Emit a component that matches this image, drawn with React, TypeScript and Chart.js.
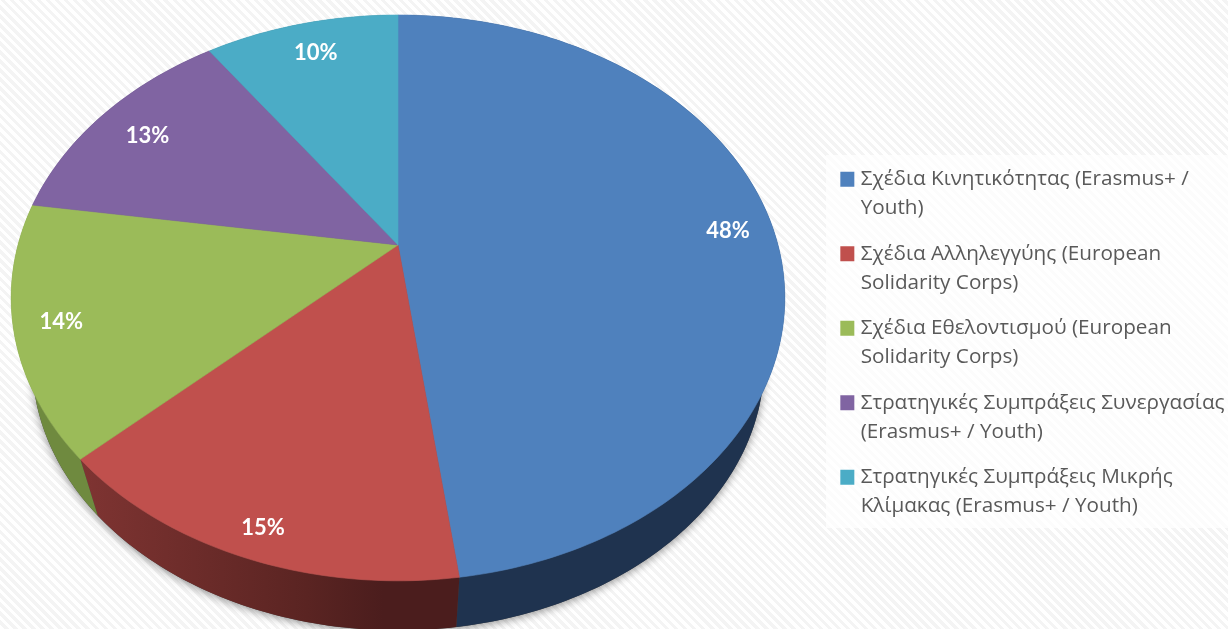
import React, { useEffect, useRef } from "react";
import { Chart, registerables } from "chart.js";

Chart.register(...registerables);

const categories: string[][] = [
  ["Σχέδια Κινητικότητας (Erasmus+ /", "Youth)"],
  ["Σχέδια Αλληλεγγύης (European", "Solidarity Corps)"],
  ["Σχέδια Εθελοντισμού (European", "Solidarity Corps)"],
  ["Στρατηγικές Συμπράξεις Συνεργασίας", "(Erasmus+ / Youth)"],
  ["Στρατηγικές Συμπράξεις Μικρής", "Κλίμακας (Erasmus+ / Youth)"],
];
const shares = [47.9, 15.1, 14.4, 12.9, 9.7];
const colors = ["#4f81bd", "#c0504d", "#9bbb59", "#8064a2", "#4bacc6"];
const sideColors = ["#1f334f", "#6b2c2a", "#6f8a3f", "#4c3c61", "#2d6776"];

// perspective of the tilted disc
const CX = 398;
const R = 380;
const APEX_Y = 245;
const TILT = -0.187;
const RISE = 227.2;
const LABEL_R = [0.88, 0.92, 0.88, 0.83, 0.85];
const LABEL_SHIFT = [[0, 2], [5, 1], [-1, 2], [-3, 1], [2, 0]];
// vertical edges of the disc converge on this point
const VX = 402;
const VY = 1500;
const DEPTH = 0.054;

type P = [number, number];

const project = (theta: number, r = 1): P => {
  const t = -r * Math.cos(theta);
  const u = r * Math.sin(theta);
  const d = 1 + TILT * t;
  return [CX + (R * u) / d, (RISE * t + APEX_Y) / d];
};
const lower = ([x, y]: P): P => [VX + (1 - DEPTH) * (x - VX), VY + (1 - DEPTH) * (y - VY)];

const rim = (from: number, to: number): P[] => {
  const n = Math.max(2, Math.ceil((Math.abs(to - from) * 180) / Math.PI));
  const pts: P[] = [];
  for (let i = 0; i <= n; i++) pts.push(project(from + ((to - from) * i) / n));
  return pts;
};

const trace = (ctx: CanvasRenderingContext2D, pts: P[]) => {
  ctx.beginPath();
  pts.forEach(([x, y], i) => (i ? ctx.lineTo(x, y) : ctx.moveTo(x, y)));
  ctx.closePath();
};

const perspectivePie = {
  id: "perspectivePie",
  beforeDraw(chart: any) {
    const ctx: CanvasRenderingContext2D = chart.ctx;
    ctx.save();
    ctx.fillStyle = "rgba(255,255,255,0.72)";
    ctx.fillRect(826, 155, chart.width - 826, 373);
    ctx.restore();
  },
  beforeDatasetsDraw(chart: any) {
    const ctx: CanvasRenderingContext2D = chart.ctx;
    const arcs = chart.getDatasetMeta(0).data;
    const angle = (a: number) => a + Math.PI / 2;
    ctx.save();

    // soft shadow below the disc
    ctx.save();
    ctx.shadowColor = "rgba(0,0,0,0.42)";
    ctx.shadowBlur = 9;
    ctx.shadowOffsetY = 2;
    ctx.fillStyle = "#444";
    trace(ctx, rim(0, Math.PI * 2).map(lower));
    ctx.fill();
    ctx.restore();

    // side walls
    arcs.forEach((arc: any, i: number) => {
      const top = rim(angle(arc.startAngle), angle(arc.endAngle));
      const wall = [...top, ...top.map(lower).reverse()];
      trace(ctx, wall);
      let fill: string | CanvasGradient = sideColors[i];
      if (i === 1) {
        const g = ctx.createLinearGradient(top[top.length - 1][0], 0, top[0][0], 0);
        g.addColorStop(0, "#7f3432");
        g.addColorStop(0.6, "#5a2422");
        g.addColorStop(0.8, "#4b1d1d");
        g.addColorStop(1, "#4b1d1d");
        fill = g;
      }
      ctx.fillStyle = fill;
      ctx.fill();
    });

    // top faces
    arcs.forEach((arc: any, i: number) => {
      const face: P[] = [project(0, 0), ...rim(angle(arc.startAngle), angle(arc.endAngle))];
      trace(ctx, face);
      ctx.fillStyle = colors[i];
      ctx.strokeStyle = colors[i];
      ctx.lineWidth = 0.6;
      ctx.fill();
      ctx.stroke();
    });

    // value labels
    ctx.font = "bold 22px Lato";
    ctx.fillStyle = "#ffffff";
    ctx.textAlign = "center";
    ctx.textBaseline = "middle";
    arcs.forEach((arc: any, i: number) => {
      const mid = angle((arc.startAngle + arc.endAngle) / 2);
      const [x, y] = project(mid, LABEL_R[i]);
      ctx.fillText(`${Math.round(shares[i])}%`, x + LABEL_SHIFT[i][0], y + LABEL_SHIFT[i][1]);
    });
    ctx.restore();
    return false;
  },
};

export default function App() {
  const ref = useRef<HTMLCanvasElement>(null);
  useEffect(() => {
    const chart = new Chart(ref.current as HTMLCanvasElement, {
      type: "pie",
      data: {
        labels: categories as any,
        datasets: [{ data: shares, backgroundColor: colors, borderWidth: 0 }],
      },
      options: {
        animation: false,
        responsive: false,
        layout: { padding: { top: 65, right: -6.5, bottom: 0, left: 0 } },
        plugins: {
          tooltip: { enabled: false },
          legend: {
            position: "right",
            align: "center",
            labels: {
              boxWidth: 6,
              boxHeight: 7,
              padding: 16.5,
              color: "#595959",
              font: { family: "'Open Sans'", size: 20.7, lineHeight: "29px" },
              generateLabels(chart: any) {
                return (Chart as any).overrides.pie.plugins.legend.labels
                  .generateLabels(chart)
                  .map((item: any, i: number) => ({
                    ...item,
                    lineWidth: 8,
                    strokeStyle: colors[i],
                  }));
              },
            },
          },
        },
      },
      plugins: [perspectivePie],
    } as any);
    return () => chart.destroy();
  }, []);
  return (
    <div
      style={{
        position: "fixed",
        left: 0,
        top: 0,
        width: 1228,
        height: 629,
        overflow: "hidden",
        background: "repeating-linear-gradient(45deg, #ffffff 0 3.2px, #f4f4f4 3.2px 6.4px)",
      }}
    >
      <canvas ref={ref} width={1228} height={629} style={{ display: "block" }} />
    </div>
  );
}
